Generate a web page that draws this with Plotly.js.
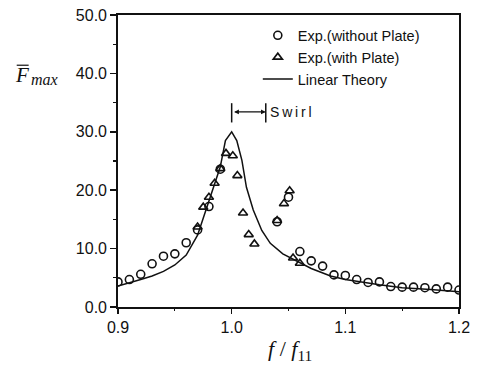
<!DOCTYPE html>
<html>
<head>
<meta charset="utf-8">
<script src="https://cdn.plot.ly/plotly-3.0.1.min.js"></script>
<style>html,body{margin:0;padding:0;background:#fff;}#chart{width:481px;height:374px;}</style>
</head>
<body>
<div id="chart"></div>
<script>
// Experimental data, without plate (circles)
const freqNoPlate = [0.90,0.91,0.92,0.93,0.94,0.95,0.96,0.97,0.98,0.99,1.04,1.05,1.06,1.07,1.08,1.09,1.10,1.11,1.12,1.13,1.14,1.15,1.16,1.17,1.18,1.19,1.20];
const forceNoPlate = [4.3,4.7,5.6,7.4,8.7,9.1,11.0,13.2,17.2,23.6,14.6,18.8,9.5,7.9,7.0,5.5,5.4,4.7,4.2,4.3,3.5,3.4,3.4,3.3,3.1,3.4,2.9];

// Experimental data, with plate (triangles)
const freqPlate = [0.970,0.975,0.980,0.985,0.990,0.995,1.001,1.005,1.010,1.015,1.020,1.040,1.046,1.051,1.054,1.060];
const forcePlate = [13.7,17.1,18.8,21.2,23.7,26.3,25.9,22.5,16.1,12.4,10.8,14.8,17.7,19.9,8.4,7.5];

// Linear theory curve
const freqTheory = [0.900,0.910,0.920,0.930,0.940,0.950,0.960,0.970,0.978,0.984,0.990,0.9945,1.000,1.0045,1.009,1.013,1.019,1.0265,1.034,1.045,1.057,1.070,1.087,1.100,1.130,1.150,1.175,1.200];
const forceTheory = [3.6,4.1,4.7,5.3,6.1,7.2,8.9,12.3,17.1,20.5,24.0,28.5,30.0,28.5,25.1,20.5,16.6,13.1,10.9,9.1,7.9,6.6,5.3,4.7,3.8,3.3,3.0,2.6];

// Tick labels
const yTickVals = [0,10,20,30,40,50];
const yTickText = ["0.0","10.0","20.0","30.0","40.0","50.0"];
const xTickVals = [0.9,1.0,1.1,1.2];
const xTickText = ["0.9","1.0","1.1","1.2"];

// Swirl range
const swirlStart = 1.0, swirlEnd = 1.03, swirlLevel = 33.4, swirlLow = 31.6, swirlHigh = 34.9;

const black = '#111';
const serif = '"Liberation Serif", "Times New Roman", serif';
const traces = [
  {x: freqNoPlate, y: forceNoPlate, mode: 'markers', type: 'scatter', name: 'Exp.(without Plate)',
   marker: {symbol: 'circle-open', size: 8, color: black, line: {width: 1.6, color: black}}},
  {x: freqPlate, y: forcePlate, mode: 'markers', type: 'scatter', name: 'Exp.(with Plate)',
   marker: {symbol: 'triangle-up-open', size: 8, color: black, line: {width: 1.6, color: black}}},
  {x: freqTheory, y: forceTheory, mode: 'lines', type: 'scatter', name: 'Linear Theory',
   line: {color: black, width: 1.5}}
];

const layout = {
  width: 481, height: 374,
  margin: {l: 118, r: 22, t: 15, b: 67},
  paper_bgcolor: '#fff', plot_bgcolor: '#fff',
  font: {family: 'Arial, "Liberation Sans", sans-serif', size: 16, color: black},
  showlegend: true,
  legend: {x: 0.41, y: 0.985, xanchor: 'left', yanchor: 'top', bgcolor: 'rgba(0,0,0,0)',
           font: {size: 14.5, color: black}, tracegroupgap: 0, itemwidth: 30},
  xaxis: {range: [0.9, 1.2], tickvals: xTickVals, ticktext: xTickText, showgrid: false, zeroline: false,
          showline: true, linecolor: black, linewidth: 1.8, mirror: true,
          ticks: 'outside', ticklen: 5, tickwidth: 1.5, tickcolor: black,
          minor: {dtick: 0.05, ticks: 'outside', ticklen: 2, tickwidth: 1.2, tickcolor: black},
          tickfont: {size: 16}},
  yaxis: {range: [0, 50], tickvals: yTickVals, ticktext: yTickText, showgrid: false, zeroline: false,
          showline: true, linecolor: black, linewidth: 1.8, mirror: true,
          ticks: 'outside', ticklen: 6, tickwidth: 1.5, tickcolor: black,
          minor: {dtick: 5, ticks: 'outside', ticklen: 3, tickwidth: 1.2, tickcolor: black},
          tickfont: {size: 16}},
  shapes: [
    {type: 'line', xref: 'x', yref: 'y', x0: swirlStart, x1: swirlStart, y0: swirlLow, y1: swirlHigh, line: {color: black, width: 1.5}},
    {type: 'line', xref: 'x', yref: 'y', x0: swirlEnd, x1: swirlEnd, y0: swirlLow, y1: swirlHigh, line: {color: black, width: 1.5}},
    {type: 'line', xref: 'paper', yref: 'paper', x0: -0.297, x1: -0.262, y0: 0.828, y1: 0.828, line: {color: black, width: 1.2}}
  ],
  annotations: [
    {xref: 'x', yref: 'y', x: swirlEnd, y: swirlLevel, axref: 'x', ayref: 'y', ax: swirlStart + 0.0008, ay: swirlLevel,
     showarrow: true, arrowside: 'end+start', arrowhead: 2, arrowsize: 0.8, arrowwidth: 1.2, arrowcolor: black, text: ''},
    {xref: 'x', yref: 'y', x: swirlEnd + 0.002, y: swirlLevel, xanchor: 'left', yanchor: 'middle', showarrow: false,
     text: 'S\u2009w\u2009i\u2009r\u2009l', font: {size: 14, color: black}},
    {xref: 'paper', yref: 'y', x: -0.309, y: 39.8, xanchor: 'left', yanchor: 'middle', showarrow: false,
     text: '<i>F</i>', font: {family: serif, size: 21, color: black}},
    {xref: 'paper', yref: 'y', x: -0.261, y: 38.9, xanchor: 'left', yanchor: 'middle', showarrow: false,
     text: '<i>max</i>', font: {family: serif, size: 16, color: black}},
    {xref: 'paper', yref: 'paper', x: 0.505, y: -0.148, xanchor: 'center', yanchor: 'middle', showarrow: false,
     text: '<i>f</i> / <i>f</i><sub>11</sub>', font: {family: serif, size: 22, color: black}}
  ]
};

Plotly.newPlot('chart', traces, layout, {displayModeBar: false, staticPlot: true});
</script>
</body>
</html>
